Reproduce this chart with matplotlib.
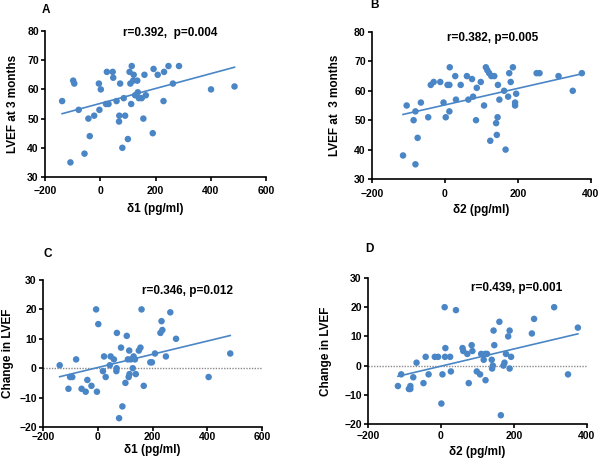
import matplotlib
matplotlib.use("Agg")
import matplotlib.pyplot as plt
import numpy as np

plt.rcParams['font.family'] = ['Liberation Sans', 'DejaVu Sans']
plt.rcParams['font.weight'] = 'bold'

# ---- Data ----
d1_A = [-138, -98, -94, -78, -108, -57, -43, -38, -22, -5, 2, -3, 24, 45, 47, 21, 30, 59,
        72, 69, 68, 90, 85, 80, 100, 106, 114, 112, 109, 119, 121, 134, 126, 136, 140, 150,
        165, 160, 156, 193, 190, 208, 231, 229, 247, 263, 285, 401, 486]
lvef_A = [56, 63, 62, 53, 35, 38, 50, 44, 51, 62, 60, 53, 66, 66, 64, 55, 55, 56,
          62, 51, 49, 51, 57, 40, 43, 66, 68, 55, 62, 63, 65, 63, 58, 59, 57, 57,
          58, 65, 50, 67, 45, 65, 66, 56, 68, 62, 68, 60, 61]

d2_B = [-115, -105, -86, -81, -81, -75, -66, -46, -39, -31, -13, -4, 2, 7, 12, 13, 12, 28,
        30, 43, 60, 64, 74, 77, 87, 85, 98, 107, 112, 116, 121, 127, 135, 124, 140, 144,
        142, 145, 149, 162, 166, 173, 176, 180, 186, 192, 192, 195, 251, 259, 311, 350, 375]
lvef_B = [38, 55, 50, 53, 35, 44, 56, 51, 62, 63, 63, 56, 51, 62, 62, 68, 53, 65,
          57, 62, 65, 57, 64, 58, 61, 50, 63, 55, 68, 67, 66, 65, 65, 43, 49, 51,
          45, 62, 57, 60, 40, 58, 66, 63, 68, 56, 55, 59, 66, 66, 65, 60, 66]

d1_C = [-139, -107, -101, -93, -79, -59, -44, -38, -23, -6, -3, 2, 19, 23, 29, 44, 47, 59,
        70, 69, 68, 85, 90, 78, 101, 106, 110, 113, 116, 115, 121, 128, 131, 136, 139, 150,
        156, 160, 168, 192, 198, 209, 229, 233, 236, 249, 265, 286, 405, 484]
chg_C = [1, -7, -3, -3, 3, -7, -8, -4, -6, 20, -8, 15, -1, 4, -3, 1, 4, 3,
         12, 0, -1, 7, -13, -17, -5, 11, 3, -3, -2, 6, 3, 0, 4, 3, -2, 6,
         7, 20, -6, 2, 2, 5, 12, 16, 13, 4, 19, 10, -3, 5]

d2_D = [-118, -109, -88, -84, -84, -76, -67, -48, -42, -34, -17, -8, 1, 4, 10, 12, 11, 25,
        27, 41, 59, 61, 72, 76, 84, 86, 98, 107, 110, 117, 121, 122, 126, 139, 140, 142,
        144, 146, 160, 164, 171, 174, 178, 184, 188, 188, 192, 249, 255, 310, 348, 375]
chg_D = [-7, -3, -8, -7, -8, -4, 1, -6, 3, -3, 3, 3, -13, -3, 20, 6, 3, 3,
         -2, 19, 6, 5, 4, -6, 7, 5, -2, -3, 4, 2, 4, -5, 4, 2, -1, 0,
         12, 7, 15, -17, 0, 1, 4, 10, 12, -1, 3, 11, 16, 20, -3, 13]

# regression lines (slope, intercept)
fit_A = (0.0255, 55.2)
fit_B = (0.0282, 55.2)
fit_C = (0.0225, 0.23)
fit_D = (0.0295, -0.19)

panels = [
    dict(letter="A", x=d1_A, y=lvef_A, fit=fit_A, xlim=(-200, 600), xt=[-200, 0, 200, 400, 600],
         ylim=(30, 80), yt=[30, 40, 50, 60, 70, 80], xl="δ1 (pg/ml)", yl="LVEF at 3 months",
         txt="r=0.392,  p=0.004", tpos=(0.566, 0.985), zero=False,
         rect=[45, 31, 266, 177], lpos=(42, 10), xpad=3.7, xlp=5.0, ylp=6.0),
    dict(letter="B", x=d2_B, y=lvef_B, fit=fit_B, xlim=(-200, 400), xt=[-200, 0, 200, 400],
         ylim=(30, 80), yt=[30, 40, 50, 60, 70, 80], xl="δ2 (pg/ml)", yl="LVEF at  3 months",
         txt="r=0.382, p=0.005", tpos=(0.553, 0.96), zero=False,
         rect=[372, 32, 591, 179], lpos=(370, 5), xpad=4.4, xlp=3.7, ylp=9.5),
    dict(letter="C", x=d1_C, y=chg_C, fit=fit_C, xlim=(-200, 600), xt=[-200, 0, 200, 400, 600],
         ylim=(-20, 30), yt=[-20, -10, 0, 10, 20, 30], xl="δ1 (pg/ml)", yl="Change in LVEF",
         txt="r=0.346, p=0.012", tpos=(0.662, 0.925), zero=True,
         rect=[43, 280, 262, 427], lpos=(43, 254), xpad=0.3, xlp=1.5, ylp=4.0),
    dict(letter="D", x=d2_D, y=chg_D, fit=fit_D, xlim=(-200, 400), xt=[-200, 0, 200, 400],
         ylim=(-20, 30), yt=[-20, -10, 0, 10, 20, 30], xl="δ2 (pg/ml)", yl="Change in LVEF",
         txt="r=0.439, p=0.001", tpos=(0.68, 0.93), zero=True,
         rect=[368, 278, 587, 424], lpos=(365, 249), xpad=2.2, xlp=3.7, ylp=9.0),
]

W, H = 600, 462
fig = plt.figure(figsize=(W / 100, H / 100), dpi=100)
blue = '#4a86c6'

for p in panels:
    l, t, r, b = p["rect"]
    ax = fig.add_axes([l / W, 1 - b / H, (r - l) / W, (b - t) / H])
    ax.set_xlim(*p["xlim"])
    ax.set_ylim(*p["ylim"])
    if p["zero"]:
        ax.axhline(0, color='#8a8a8a', lw=1.0, ls=(0, (1, 1)), zorder=1)
    ax.scatter(p["x"], p["y"], s=22, color=blue, edgecolors='none', zorder=3, clip_on=False)
    xs = np.array([min(p["x"]), max(p["x"])])
    m, c = p["fit"]
    ax.plot(xs, m * xs + c, color=blue, lw=1.2, zorder=2)
    for s in ['top', 'right']:
        ax.spines[s].set_visible(False)
    for s in ['left', 'bottom']:
        ax.spines[s].set_linewidth(1.2)
    ax.set_xticks(p["xt"])
    ax.set_yticks(p["yt"])
    ax.tick_params(direction='out', length=3, width=1.2, labelsize=7.5)
    ax.tick_params(axis='y', pad=1.5)
    ax.tick_params(axis='x', pad=p["xpad"])
    for lab in ax.get_xticklabels() + ax.get_yticklabels():
        lab.set_fontweight('bold')
    ax.set_xlabel(p["xl"], fontsize=8.5, fontweight='bold', labelpad=p["xlp"])
    ax.set_ylabel(p["yl"], fontsize=8.5, fontweight='bold', labelpad=p["ylp"])
    ax.text(p["tpos"][0], p["tpos"][1], p["txt"], transform=ax.transAxes, ha='center',
            va='center', fontsize=8.5, fontweight='bold')
    fig.text(p["lpos"][0] / W, 1 - p["lpos"][1] / H, p["letter"], ha='left', va='center',
             fontsize=8.5, fontweight='bold')

fig.savefig("out.png", dpi=100, facecolor='white')
